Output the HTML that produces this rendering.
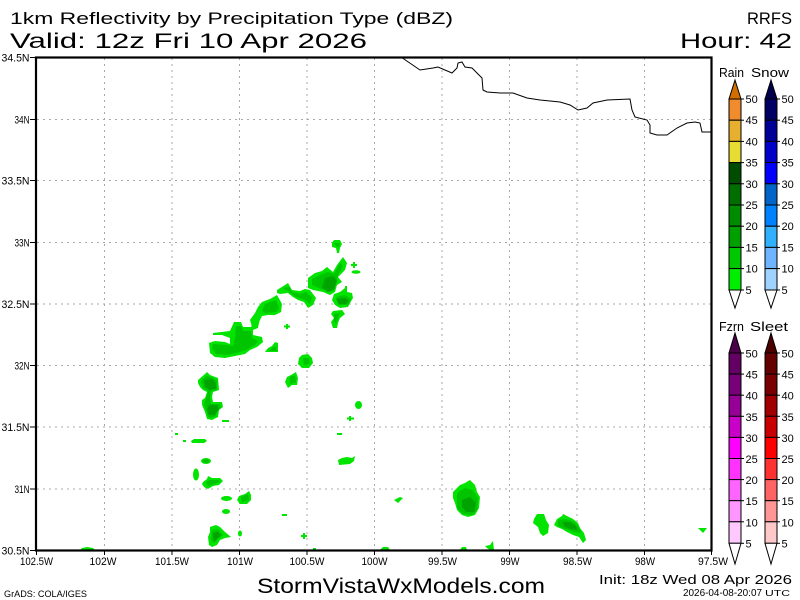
<!DOCTYPE html>
<html><head><meta charset="utf-8"><style>
html,body{margin:0;padding:0;background:#fff;}
svg{display:block;}
text{font-family:"Liberation Sans",sans-serif;fill:#000;}
</style></head><body>
<svg width="800" height="600" viewBox="0 0 800 600" xmlns="http://www.w3.org/2000/svg">
<rect width="800" height="600" fill="#fff"/>

<!-- titles -->
<text x="10" y="24" font-size="17" textLength="443" lengthAdjust="spacingAndGlyphs">1km Reflectivity by Precipitation Type (dBZ)</text>
<text x="10" y="48" font-size="21" textLength="357" lengthAdjust="spacingAndGlyphs">Valid: 12z Fri 10 Apr 2026</text>
<text x="747" y="24" font-size="17" textLength="45" lengthAdjust="spacingAndGlyphs">RRFS</text>
<text x="680" y="48" font-size="21" textLength="112" lengthAdjust="spacingAndGlyphs">Hour: 42</text>

<!-- grid -->
<g stroke="#a8a8a8" stroke-width="1" stroke-dasharray="2,4" fill="none">
<line x1="104.5" y1="58" x2="104.5" y2="550"/>
<line x1="172" y1="58" x2="172" y2="550"/>
<line x1="239.5" y1="58" x2="239.5" y2="550"/>
<line x1="307" y1="58" x2="307" y2="550"/>
<line x1="374.5" y1="58" x2="374.5" y2="550"/>
<line x1="442" y1="58" x2="442" y2="550"/>
<line x1="509.5" y1="58" x2="509.5" y2="550"/>
<line x1="577" y1="58" x2="577" y2="550"/>
<line x1="644.5" y1="58" x2="644.5" y2="550"/>
<line x1="37" y1="119.5" x2="711" y2="119.5"/>
<line x1="37" y1="180.5" x2="711" y2="180.5"/>
<line x1="37" y1="242.5" x2="711" y2="242.5"/>
<line x1="37" y1="304" x2="711" y2="304"/>
<line x1="37" y1="365.5" x2="711" y2="365.5"/>
<line x1="37" y1="427" x2="711" y2="427"/>
<line x1="37" y1="489" x2="711" y2="489"/>
</g>

<!-- state boundary -->
<polyline fill="none" stroke="#000" stroke-width="1" points="401,57 420,70 433,68 438,67 452,73 457,68 458,63 462,62 465,67 472,68 482,78 483,90 487,92 500,93 513,93 527,98 540,100 560,102 570,105 578,110 587,108 593,103 607,100 630,99 632,110 635,117 647,120 650,125 650,133 657,135 667,135 677,128 687,123 695,122 700,123 702,132 712,132"/>

<!-- precipitation: light -->
<g fill="#00e400">
<polygon points="332,243 334,240 340,240 342,244 340,248 339,253 337,253 336,248 332,247"/>
<polygon points="343,257 347,263 345,270 338,277 342,282 337,285 335,292 330,295 323,292 313,290 308,288 308,278 315,273 322,271 327,267 333,272 337,265"/>
<rect x="353" y="262" width="2" height="6"/><rect x="351" y="264" width="6" height="2"/>
<ellipse cx="356" cy="272" rx="4.5" ry="1.8"/>
<rect x="345" y="286" width="2" height="6"/>
<polygon points="345,288 347,288 347,292 352,293 353,298 350,303 348,307 340,308 335,305 332,300 334,294 340,292"/>
<polygon points="333,311 342,310 345,314 340,318 338,323 337,328 333,328 331,322 334,318 331,314"/>
<polygon points="277,290 285,285 288,283 292,290 300,291 305,289 310,290 316,298 313,305 308,308 304,302 298,300 293,297 288,293 280,294 277,293"/>
<polygon points="262,302 270,299 277,295 282,304 281,312 275,315 268,315 262,316 259,322 256,327 252,327 250,320 255,313 258,307"/>
<polygon points="213,333 230,331 234,322 241,322 243,327 251,327 257,318 260,318 258,328 253,330 253,335 262,337 263,342 257,347 250,350 245,354 235,356 225,358 215,357 210,353 209,343 215,341 225,342 230,344 230,338 222,335 213,335"/>
<polygon points="275,342 278,343 278,352 265,352 268,348 272,346"/>
<rect x="286" y="324" width="2" height="5"/><rect x="284" y="325.5" width="6" height="2"/>
<polygon points="302,355 308,354 312,358 313,363 309,368 302,368 298,364 299,358"/>
<polygon points="291,375 296,372 298,378 297,385 292,385 288,388 285,382 287,377"/>
<polygon points="198,380 205,374 207,372 210,375 218,378 219,390 213,392 212,397 213,402 222,402 223,407 219,410 218,417 212,420 207,419 205,412 202,405 202,400 205,398 207,392 203,390 200,387 198,383"/>
<rect x="222" y="420" width="7" height="2"/>
<rect x="175" y="433" width="3" height="2"/>
<rect x="183" y="440" width="3" height="2"/>
<polygon points="191,441 194,439 205,439 207,441 204,443 192,443"/>
<ellipse cx="206" cy="461" rx="5" ry="3"/>
<ellipse cx="196" cy="474.5" rx="3" ry="6"/>
<polygon points="203,482 207,479 208,476 212,478 220,478 223,481 219,485 213,486 208,489 204,487 202,484"/>
<ellipse cx="226.5" cy="498.5" rx="5.5" ry="2.5"/>
<ellipse cx="226" cy="511.5" rx="4" ry="2.5"/>
<polygon points="210,527 216,525 220,527 225,532 231,537 225,538 220,540 217,545 212,547 209,545 208,537 210,532"/>
<polygon points="239,496 245,494 249,491 251,495 251,500 247,504 240,504 237,500"/>
<ellipse cx="240" cy="533.5" rx="2" ry="3"/>
<ellipse cx="358.5" cy="405" rx="3.5" ry="4"/>
<rect x="349" y="416" width="2" height="5"/><rect x="347" y="417.5" width="7" height="2"/>
<rect x="337" y="433" width="5" height="2"/>
<polygon points="338,460 342,458 347,457 352,458 355,456 354,461 350,464 339,465"/>
<rect x="282" y="514" width="5" height="2"/>
<rect x="303" y="533" width="2" height="6"/><rect x="301" y="535" width="6" height="2"/>
<rect x="313" y="548" width="3" height="2"/>
<polygon points="80,550 82,548 87,547 93,548 95,550"/>
<polygon points="380,550 383,547 388,547 390,550"/>
<polygon points="394,500 400,497 403,498 398,503"/>
<polygon points="470,480 475,485 477,492 480,497 479,508 475,515 468,517 462,515 457,510 455,503 453,498 453,492 460,485 465,483"/>
<polygon points="460,550 462,547 466,547 467,550"/>
<polygon points="485,546 490,545 493,541 494,550 490,550 487,548"/>
<polygon points="537,514 544,514 546,520 549,525 548,533 543,536 540,533 538,527 533,523 534,519"/>
<polygon points="563,514 567,516 573,519 578,523 580,528 584,533 586,540 583,543 579,537 573,535 567,532 562,529 557,527 554,525 557,519 562,516"/>
<polygon points="698,528 707,528 703,533"/>
</g>

<!-- precipitation: medium -->
<g fill="#00c400">
<polygon points="334,243 339,243 340,246 337,247"/>
<polygon points="340,263 343,266 338,275 336,284 331,291 321,289 312,285 312,279 320,275 328,272 334,274"/>
<polygon points="336,297 345,295 351,299 348,305 338,305"/>
<polygon points="334,314 340,313 338,318 336,324 334,321"/>
<polygon points="283,288 289,287 292,292 300,294 306,292 312,297 310,304 305,300 296,297 288,291"/>
<polygon points="265,304 276,300 279,308 276,312 266,313 262,311"/>
<polygon points="236,326 241,326 243,331 251,331 252,338 258,341 255,345 246,350 236,353 228,355 216,354 212,348 213,344 226,345 233,346 235,338"/>
<polygon points="272,348 276,346 277,351 269,351"/>
<polygon points="303,358 309,358 310,364 304,365"/>
<polygon points="290,377 295,375 296,382 290,384"/>
<polygon points="201,381 206,376 211,377 217,380 217,390 211,391 210,398 211,404 220,404 221,408 217,410 216,416 211,418 208,417 206,410 204,404 206,398 208,391 203,388"/>
<ellipse cx="206" cy="461" rx="3" ry="2"/>
<polygon points="206,482 210,480 218,480 220,482 214,484 208,486"/>
<polygon points="212,530 218,529 223,535 218,539 214,543 211,540"/>
<polygon points="241,497 248,494 249,500 242,502"/>
<polygon points="457,493 465,488 473,490 478,498 477,510 472,515 463,514 457,508"/>
<polygon points="558,520 566,519 574,522 579,527 581,533 574,532 565,529 558,526"/>
</g>

<!-- precipitation: dark -->
<g fill="#00a400">
<polygon points="325,278 333,276 337,281 334,290 328,292 322,288"/>
<polygon points="336,299 345,298 349,301 346,304 339,304"/>
<polygon points="204,380 212,379 216,383 216,389 210,390 205,387"/>
<polygon points="209,405 217,405 219,409 215,415 209,415 207,410"/>
<polygon points="213,533 218,532 221,535 217,539 214,541"/>
<polygon points="462,500 470,497 476,503 474,512 466,512 462,507"/>
<polygon points="563,522 570,522 576,526 577,530 570,529 564,526"/>
</g>

<!-- axes frame -->
<rect x="36" y="57.5" width="675.5" height="493" fill="none" stroke="#000" stroke-width="2.2"/>
<g stroke="#000" stroke-width="1">
<line x1="30" y1="57.5" x2="36" y2="57.5"/>
<line x1="30" y1="119.5" x2="36" y2="119.5"/>
<line x1="30" y1="180.5" x2="36" y2="180.5"/>
<line x1="30" y1="242.5" x2="36" y2="242.5"/>
<line x1="30" y1="304" x2="36" y2="304"/>
<line x1="30" y1="365.5" x2="36" y2="365.5"/>
<line x1="30" y1="427" x2="36" y2="427"/>
<line x1="30" y1="489" x2="36" y2="489"/>
<line x1="30" y1="550.5" x2="36" y2="550.5"/>
<line x1="36.5" y1="550" x2="36.5" y2="555"/>
<line x1="104.5" y1="550" x2="104.5" y2="555"/>
<line x1="172" y1="550" x2="172" y2="555"/>
<line x1="239.5" y1="550" x2="239.5" y2="555"/>
<line x1="307" y1="550" x2="307" y2="555"/>
<line x1="374.5" y1="550" x2="374.5" y2="555"/>
<line x1="442" y1="550" x2="442" y2="555"/>
<line x1="509.5" y1="550" x2="509.5" y2="555"/>
<line x1="577" y1="550" x2="577" y2="555"/>
<line x1="644.5" y1="550" x2="644.5" y2="555"/>
<line x1="711.5" y1="550" x2="711.5" y2="555"/>
</g>

<!-- lat labels -->
<g font-size="11" text-anchor="end">
<text x="29.5" y="61.5" textLength="28" lengthAdjust="spacingAndGlyphs">34.5N</text>
<text x="29.5" y="123.5" textLength="15" lengthAdjust="spacingAndGlyphs">34N</text>
<text x="29.5" y="184.5" textLength="28" lengthAdjust="spacingAndGlyphs">33.5N</text>
<text x="29.5" y="246.5" textLength="15" lengthAdjust="spacingAndGlyphs">33N</text>
<text x="29.5" y="308" textLength="28" lengthAdjust="spacingAndGlyphs">32.5N</text>
<text x="29.5" y="369.5" textLength="15" lengthAdjust="spacingAndGlyphs">32N</text>
<text x="29.5" y="431" textLength="28" lengthAdjust="spacingAndGlyphs">31.5N</text>
<text x="29.5" y="493" textLength="15" lengthAdjust="spacingAndGlyphs">31N</text>
<text x="29.5" y="554.5" textLength="28" lengthAdjust="spacingAndGlyphs">30.5N</text>
</g>
<!-- lon labels -->
<g font-size="11" text-anchor="middle">
<text x="36.5" y="565" textLength="33" lengthAdjust="spacingAndGlyphs">102.5W</text>
<text x="103" y="565" textLength="27" lengthAdjust="spacingAndGlyphs">102W</text>
<text x="172" y="565" textLength="34" lengthAdjust="spacingAndGlyphs">101.5W</text>
<text x="240" y="565" textLength="26" lengthAdjust="spacingAndGlyphs">101W</text>
<text x="307" y="565" textLength="35" lengthAdjust="spacingAndGlyphs">100.5W</text>
<text x="374.5" y="565" textLength="26" lengthAdjust="spacingAndGlyphs">100W</text>
<text x="442.5" y="565" textLength="29" lengthAdjust="spacingAndGlyphs">99.5W</text>
<text x="510" y="565" textLength="19" lengthAdjust="spacingAndGlyphs">99W</text>
<text x="577.5" y="565" textLength="29" lengthAdjust="spacingAndGlyphs">98.5W</text>
<text x="645" y="565" textLength="20" lengthAdjust="spacingAndGlyphs">98W</text>
<text x="713" y="565" textLength="30" lengthAdjust="spacingAndGlyphs">97.5W</text>
</g>

<!-- colorbar headers -->
<text x="719" y="77" font-size="13" textLength="25" lengthAdjust="spacingAndGlyphs">Rain</text>
<text x="751" y="77" font-size="13" textLength="38" lengthAdjust="spacingAndGlyphs">Snow</text>
<text x="719" y="331" font-size="13" textLength="25" lengthAdjust="spacingAndGlyphs">Fzrn</text>
<text x="750" y="331" font-size="13" textLength="38" lengthAdjust="spacingAndGlyphs">Sleet</text>

<!-- Rain bar -->
<g stroke="#000" stroke-width="1">
<polygon points="729,99 735,80 741,99" fill="#d26e00"/>
<rect x="729" y="99" width="12" height="21.2" fill="#f08c2d"/>
<rect x="729" y="120.2" width="12" height="21.2" fill="#e6af2d"/>
<rect x="729" y="141.4" width="12" height="21.2" fill="#e6dc32"/>
<rect x="729" y="162.6" width="12" height="21.2" fill="#004c00"/>
<rect x="729" y="183.8" width="12" height="21.2" fill="#006e00"/>
<rect x="729" y="205" width="12" height="21.2" fill="#008c00"/>
<rect x="729" y="226.2" width="12" height="21.2" fill="#00a000"/>
<rect x="729" y="247.4" width="12" height="21.2" fill="#00c800"/>
<rect x="729" y="268.6" width="12" height="21.4" fill="#00ee00"/>
<polygon points="729,290 735,308 741,290" fill="#fff"/>
</g>
<!-- Snow bar -->
<g stroke="#000" stroke-width="1">
<polygon points="765,99 771,80 777,99" fill="#00004b"/>
<rect x="765" y="99" width="12" height="21.2" fill="#000064"/>
<rect x="765" y="120.2" width="12" height="21.2" fill="#000096"/>
<rect x="765" y="141.4" width="12" height="21.2" fill="#0000c8"/>
<rect x="765" y="162.6" width="12" height="21.2" fill="#0000ff"/>
<rect x="765" y="183.8" width="12" height="21.2" fill="#0064c8"/>
<rect x="765" y="205" width="12" height="21.2" fill="#0082ff"/>
<rect x="765" y="226.2" width="12" height="21.2" fill="#30b0ff"/>
<rect x="765" y="247.4" width="12" height="21.2" fill="#6eb4ff"/>
<rect x="765" y="268.6" width="12" height="21.4" fill="#a0d2ff"/>
<polygon points="765,290 771,308 777,290" fill="#fff"/>
</g>
<g stroke="#000" stroke-width="1">
<line x1="741" y1="99" x2="744" y2="99"/><line x1="741" y1="120.2" x2="744" y2="120.2"/><line x1="741" y1="141.4" x2="744" y2="141.4"/><line x1="741" y1="162.6" x2="744" y2="162.6"/><line x1="741" y1="183.8" x2="744" y2="183.8"/><line x1="741" y1="205" x2="744" y2="205"/><line x1="741" y1="226.2" x2="744" y2="226.2"/><line x1="741" y1="247.4" x2="744" y2="247.4"/><line x1="741" y1="268.6" x2="744" y2="268.6"/><line x1="741" y1="290" x2="744" y2="290"/>
<line x1="777" y1="99" x2="780" y2="99"/><line x1="777" y1="120.2" x2="780" y2="120.2"/><line x1="777" y1="141.4" x2="780" y2="141.4"/><line x1="777" y1="162.6" x2="780" y2="162.6"/><line x1="777" y1="183.8" x2="780" y2="183.8"/><line x1="777" y1="205" x2="780" y2="205"/><line x1="777" y1="226.2" x2="780" y2="226.2"/><line x1="777" y1="247.4" x2="780" y2="247.4"/><line x1="777" y1="268.6" x2="780" y2="268.6"/><line x1="777" y1="290" x2="780" y2="290"/>
</g>
<g font-size="11">
<text x="745.5" y="103">50</text><text x="745.5" y="124.2">45</text><text x="745.5" y="145.4">40</text><text x="745.5" y="166.6">35</text><text x="745.5" y="187.8">30</text><text x="745.5" y="209">25</text><text x="745.5" y="230.2">20</text><text x="745.5" y="251.4">15</text><text x="745.5" y="272.6">10</text><text x="745.5" y="294">5</text>
<text x="781.5" y="103">50</text><text x="781.5" y="124.2">45</text><text x="781.5" y="145.4">40</text><text x="781.5" y="166.6">35</text><text x="781.5" y="187.8">30</text><text x="781.5" y="209">25</text><text x="781.5" y="230.2">20</text><text x="781.5" y="251.4">15</text><text x="781.5" y="272.6">10</text><text x="781.5" y="294">5</text>
</g>

<!-- Fzrn bar -->
<g stroke="#000" stroke-width="1">
<polygon points="729,353 735,333 741,353" fill="#4b004b"/>
<rect x="729" y="353" width="12" height="21.1" fill="#640064"/>
<rect x="729" y="374.1" width="12" height="21.1" fill="#780078"/>
<rect x="729" y="395.2" width="12" height="21.1" fill="#960096"/>
<rect x="729" y="416.3" width="12" height="21.1" fill="#c800c8"/>
<rect x="729" y="437.4" width="12" height="21.1" fill="#ff00ff"/>
<rect x="729" y="458.5" width="12" height="21.1" fill="#ff32ff"/>
<rect x="729" y="479.6" width="12" height="21.1" fill="#ff64ff"/>
<rect x="729" y="500.7" width="12" height="21.1" fill="#ff96ff"/>
<rect x="729" y="521.8" width="12" height="21.5" fill="#ffc8ff"/>
<polygon points="729,543.3 735,564 741,543.3" fill="#fff"/>
</g>
<!-- Sleet bar -->
<g stroke="#000" stroke-width="1">
<polygon points="765,353 771,333 777,353" fill="#4b0000"/>
<rect x="765" y="353" width="12" height="21.1" fill="#640000"/>
<rect x="765" y="374.1" width="12" height="21.1" fill="#780000"/>
<rect x="765" y="395.2" width="12" height="21.1" fill="#a00000"/>
<rect x="765" y="416.3" width="12" height="21.1" fill="#c80000"/>
<rect x="765" y="437.4" width="12" height="21.1" fill="#ff0000"/>
<rect x="765" y="458.5" width="12" height="21.1" fill="#ff3232"/>
<rect x="765" y="479.6" width="12" height="21.1" fill="#ff6464"/>
<rect x="765" y="500.7" width="12" height="21.1" fill="#ff9696"/>
<rect x="765" y="521.8" width="12" height="21.5" fill="#ffc8c8"/>
<polygon points="765,543.3 771,564 777,543.3" fill="#fff"/>
</g>
<g stroke="#000" stroke-width="1">
<line x1="741" y1="353" x2="744" y2="353"/><line x1="741" y1="374.1" x2="744" y2="374.1"/><line x1="741" y1="395.2" x2="744" y2="395.2"/><line x1="741" y1="416.3" x2="744" y2="416.3"/><line x1="741" y1="437.4" x2="744" y2="437.4"/><line x1="741" y1="458.5" x2="744" y2="458.5"/><line x1="741" y1="479.6" x2="744" y2="479.6"/><line x1="741" y1="500.7" x2="744" y2="500.7"/><line x1="741" y1="521.8" x2="744" y2="521.8"/><line x1="741" y1="543.3" x2="744" y2="543.3"/>
<line x1="777" y1="353" x2="780" y2="353"/><line x1="777" y1="374.1" x2="780" y2="374.1"/><line x1="777" y1="395.2" x2="780" y2="395.2"/><line x1="777" y1="416.3" x2="780" y2="416.3"/><line x1="777" y1="437.4" x2="780" y2="437.4"/><line x1="777" y1="458.5" x2="780" y2="458.5"/><line x1="777" y1="479.6" x2="780" y2="479.6"/><line x1="777" y1="500.7" x2="780" y2="500.7"/><line x1="777" y1="521.8" x2="780" y2="521.8"/><line x1="777" y1="543.3" x2="780" y2="543.3"/>
</g>
<g font-size="11">
<text x="745.5" y="357.5">50</text><text x="745.5" y="378.6">45</text><text x="745.5" y="399.7">40</text><text x="745.5" y="420.8">35</text><text x="745.5" y="441.9">30</text><text x="745.5" y="463">25</text><text x="745.5" y="484.1">20</text><text x="745.5" y="505.2">15</text><text x="745.5" y="526.3">10</text><text x="745.5" y="547.5">5</text>
<text x="781.5" y="357.5">50</text><text x="781.5" y="378.6">45</text><text x="781.5" y="399.7">40</text><text x="781.5" y="420.8">35</text><text x="781.5" y="441.9">30</text><text x="781.5" y="463">25</text><text x="781.5" y="484.1">20</text><text x="781.5" y="505.2">15</text><text x="781.5" y="526.3">10</text><text x="781.5" y="547.5">5</text>
</g>

<!-- footer -->
<text x="257" y="593" font-size="21" textLength="288" lengthAdjust="spacingAndGlyphs">StormVistaWxModels.com</text>
<text x="4" y="597" font-size="9" textLength="83" lengthAdjust="spacingAndGlyphs">GrADS: COLA/IGES</text>
<text x="599" y="584" font-size="12.5" textLength="193" lengthAdjust="spacingAndGlyphs">Init: 18z Wed 08 Apr 2026</text>
<text x="683" y="596" font-size="10" textLength="79" lengthAdjust="spacingAndGlyphs">2026-04-08-20:07</text>
<text x="765" y="596" font-size="8" textLength="25" lengthAdjust="spacingAndGlyphs">UTC</text>
</svg>
</body></html>
